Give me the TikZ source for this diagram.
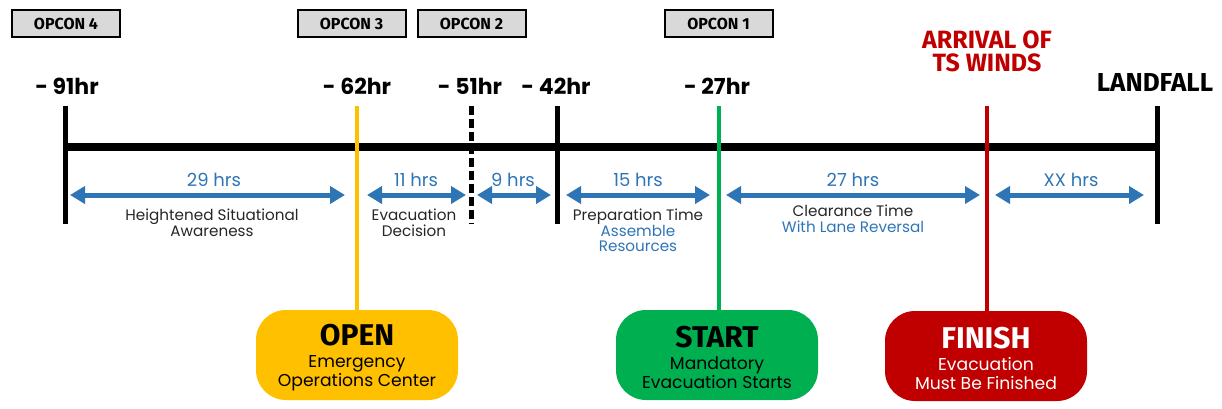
\documentclass[tikz,border=0pt]{standalone}
\usepackage{fontspec}
\setmainfont{Poppins}
\newfontfamily\headfont{Fira Sans}
\usetikzlibrary{arrows.meta,positioning}
\definecolor{spanblue}{HTML}{2E75B6}
\definecolor{eocyellow}{HTML}{FFC000}
\definecolor{startgreen}{HTML}{00B050}
\definecolor{finishred}{HTML}{C00000}
\definecolor{opcongray}{HTML}{D9D9D9}
\definecolor{txtgray}{HTML}{262626}
\newcommand\stagehead{\headfont\bfseries\fontsize{15}{15}\selectfont\rule{0pt}{13.5pt}}

\begin{document}
\begin{tikzpicture}[x=0.5pt, y=-0.5pt,
  opcon/.style={rectangle, draw, line width=1pt, fill=opcongray, minimum width=54pt, minimum height=13.5pt, inner sep=0pt, font=\headfont\bfseries\fontsize{8}{8}\selectfont},
  hour/.style={anchor=base, font=\bfseries\fontsize{11}{11}\selectfont},
  tick/.style={line width=2.5pt},
  spanarr/.style={{Triangle[length=7.5pt, width=8.5pt]}-{Triangle[length=7.5pt, width=8.5pt]}, line width=2.5pt, spanblue},
  spanlbl/.style={anchor=base, text=spanblue, font=\fontsize{9}{9}\selectfont},
  spandesc/.style={anchor=north, align=center, text=txtgray, font=\fontsize{7.6}{7.6}\selectfont, inner sep=0pt},
  stage/.style={rectangle, fill=#1, rounded corners=15pt, minimum width=101pt, minimum height=45pt, align=center, inner sep=0pt, font=\fontsize{8.6}{9.5}\selectfont}
]
  \useasboundingbox (0,0) rectangle (1222,408);

  % opcon levels
  \node[opcon] (opc4) at (66,23.5) {OPCON 4};
  \node[opcon] (opc3) at (351.5,23.5) {OPCON 3};
  \node[opcon] (opc2) at (471.5,23.5) {OPCON 2};
  \node[opcon] (opc1) at (718.5,23.5) {OPCON 1};

  % hour marks
  \node[hour] (h91) at (67,94) {- 91hr};
  \node[hour] (h62) at (357,94) {- 62hr};
  \node[hour] (h51) at (470,94) {- 51hr};
  \node[hour] (h42) at (556,94) {- 42hr};
  \node[hour] (h27) at (717,94) {- 27hr};
  \node[anchor=base, align=center, text=finishred, font=\headfont\bfseries\fontsize{12.5}{11.5}\selectfont] (hts) at (987,71) {ARRIVAL OF\\TS WINDS};
  \node[hour, font=\headfont\bfseries\fontsize{13}{13}\selectfont] (hland) at (1155,91) {LANDFALL};

  % stages
  \node[stage=eocyellow] (open) at (357,355) {{\stagehead OPEN}\\[1.5pt]Emergency\\Operations Center};
  \node[stage=startgreen] (start) at (717,355) {{\stagehead START}\\[1.5pt]Mandatory\\Evacuation Starts};
  \node[stage=finishred, text=white] (finish) at (986,356) {{\stagehead FINISH}\\[1.5pt]Evacuation\\Must Be Finished};

  % timeline
  \coordinate (m0) at (65,147);
  \coordinate (m1) at (1157,147);
  \draw[line width=4pt] (m0) -- (m1);
  \foreach \x/\nm in {65/91, 557/42, 1157/land} {
    \coordinate (a\nm) at (\x,106);
    \coordinate (b\nm) at (\x,224);
    \draw[tick] (a\nm) -- (b\nm);
  }
  \coordinate (a51) at (471,106);
  \coordinate (b51) at (471,224);
  \draw[tick, dash pattern=on 4.5pt off 2pt] (a51) -- (b51);
  \coordinate (a62) at (357,106);
  \coordinate (a27) at (719,106);
  \coordinate (ats) at (987,106);
  \draw[line width=2pt, eocyellow] (a62) -- (open.north -| a62);
  \draw[line width=2pt, startgreen] (a27) -- (start.north -| a27);
  \draw[line width=2pt, finishred] (ats) -- (finish.north -| ats);

  % spans
  \foreach \xa/\xb/\xm/\hrs/\nm in {70/345/214/29 hrs/s1, 367/466/416/11 hrs/s2, 477/551/513/9 hrs/s3, 566/710/638/15 hrs/s4, 726/980/853/27 hrs/s5, 995/1144/1071/XX hrs/s6} {
    \coordinate (\nm a) at (\xa,195);
    \coordinate (\nm b) at (\xb,195);
    \draw[spanarr] (\nm a) -- (\nm b);
    \node[spanlbl] (\nm l) at (\xm,186) {\hrs};
  }
  \node[spandesc] (d1) at (212,209) {Heightened Situational\\Awareness};
  \node[spandesc] (d2) at (414,209) {Evacuation\\Decision};
  \node[spandesc] (d4) at (638,209) {Preparation Time\\\textcolor{spanblue}{Assemble}\\\textcolor{spanblue}{Resources}};
  \node[spandesc] (d5) at (853,205) {Clearance Time\\\textcolor{spanblue}{With Lane Reversal}};
\end{tikzpicture}
\end{document}
